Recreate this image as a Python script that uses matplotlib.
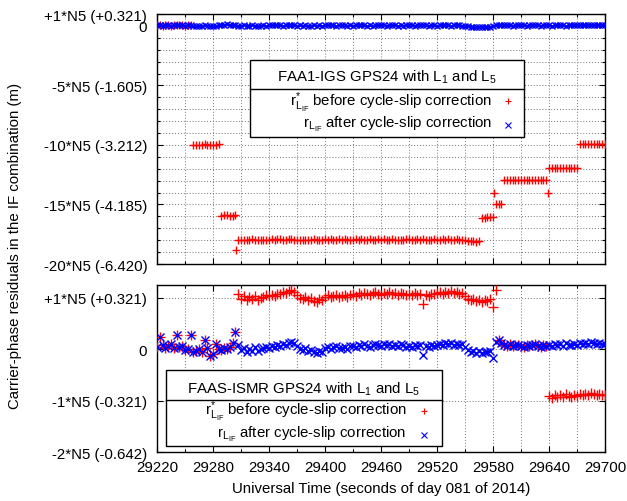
import numpy as np
import matplotlib.pyplot as plt
from matplotlib.patches import Rectangle
from matplotlib.ticker import MultipleLocator

plt.rcParams['font.family'] = ['Liberation Sans', 'DejaVu Sans']
plt.rcParams['mathtext.fontset'] = 'custom'
plt.rcParams['mathtext.rm'] = 'Liberation Sans'
plt.rcParams['mathtext.it'] = 'Liberation Sans'
plt.rcParams['font.size'] = 10.8

# epochs (seconds of day), one sample every 3 s
t = np.arange(29220, 29701, 3)

# FAA1-IGS residuals after correction (in N5 units)
top_after = [
    0.05, 0.08, 0.02, 0.06, 0.10, 0.03, 0.07, 0.04, 0.09, 0.05,
    0.02, 0.06, 0.08, 0.03, 0.00, -0.03, 0.02, 0.05, 0.01, -0.04,
    -0.02, 0.03, 0.06, 0.04, 0.09, 0.12, 0.07, 0.05, 0.08, 0.03,
    0.01, 0.04, 0.00, 0.03, 0.06, 0.02, -0.01, 0.03, 0.05, 0.02,
    0.04, 0.07, 0.05, 0.08, 0.06, 0.03, 0.05, 0.09, 0.07, 0.04,
    0.02, 0.05, 0.01, 0.04, 0.00, 0.03, 0.06, 0.02, 0.05, 0.03,
    0.06, 0.04, 0.08, 0.05, 0.03, 0.07, 0.04, 0.06, 0.02, 0.05,
    0.03, 0.06, 0.04, 0.07, 0.05, 0.02, 0.06, 0.03, 0.05, 0.08,
    0.04, 0.06, 0.03, 0.05, 0.07, 0.04, 0.02, 0.05, 0.03, 0.06,
    0.08, 0.05, 0.03, 0.06, 0.04, 0.07, 0.05, 0.02, 0.04, 0.06,
    0.03, 0.05, 0.07, 0.04, 0.06, 0.03, 0.05, 0.08, 0.04, 0.02,
    0.00, -0.03, -0.06, -0.09, -0.12, -0.10, -0.13, -0.11, -0.08, -0.05,
    -0.02, 0.04, 0.08, 0.05, 0.07, 0.04, 0.06, 0.03, 0.05, 0.07,
    0.04, 0.06, 0.02, 0.05, 0.08, 0.04, 0.06, 0.03, 0.05, 0.07,
    0.05, 0.03, 0.06, 0.04, 0.08, 0.05, 0.03, 0.07, 0.04, 0.06,
    0.05, 0.08, 0.04, 0.06, 0.09, 0.05, 0.07, 0.04, 0.06, 0.08,
    0.05,
]
# cycle slips of the uncorrected FAA1-IGS residuals
top_slip_start = [29220, 29258, 29288, 29306, 29566, 29583, 29590, 29639, 29671]
top_slip_level = [0, -10, -16, -18, -16, -15, -13, -12, -10]
top_outlier_t = [29305, 29581, 29639]
top_outlier_v = [-18.8, -14.0, -14.0]

# FAAS-ISMR residuals after correction (in N5 units)
bot_after = [
    0.04, 0.23, 0.08, 0.02, 0.06, 0.10, 0.03, 0.28, 0.05, 0.07,
    -0.02, 0.01, 0.27, -0.05, -0.03, 0.00, -0.06, 0.17, 0.02, -0.13,
    -0.10, 0.10, 0.01, -0.02, 0.03, 0.00, 0.05, 0.12, 0.34, 0.08,
    -0.02, 0.03, -0.05, 0.01, -0.03, 0.04, -0.04, 0.00, 0.02, 0.05,
    0.03, 0.06, 0.04, 0.08, 0.07, 0.11, 0.09, 0.13, 0.15, 0.12,
    0.06, 0.00, -0.02, 0.02, -0.04, -0.01, -0.06, -0.08, -0.03, -0.05,
    0.02, 0.05, 0.01, 0.04, 0.06, 0.02, 0.03, 0.05, 0.01, 0.06,
    0.07, 0.04, 0.09, 0.06, 0.10, 0.07, 0.05, 0.09, 0.11, 0.08,
    0.06, 0.10, 0.08, 0.11, 0.07, 0.09, 0.06, 0.10, 0.08, 0.05,
    0.07, 0.05, 0.09, 0.06, 0.08, -0.12, 0.06, 0.04, 0.08, 0.07,
    0.09, 0.11, 0.08, 0.12, 0.10, 0.13, 0.09, 0.11, 0.08, 0.10,
    0.04, -0.02, -0.05, -0.03, -0.07, -0.04, -0.08, -0.05, -0.06, -0.03,
    -0.18, 0.15, 0.17, 0.13, 0.09, 0.07, 0.10, 0.06, 0.08, 0.09,
    0.07, 0.05, 0.09, 0.06, 0.08, 0.10, 0.07, 0.05, 0.08, 0.06,
    0.09, 0.06, 0.11, 0.08, 0.10, 0.07, 0.12, 0.09, 0.08, 0.11,
    0.09, 0.12, 0.10, 0.13, 0.11, 0.15, 0.12, 0.10, 0.13, 0.11,
    0.10,
]
bot_slip_start = [29220, 29306, 29585, 29638]
bot_slip_level = [0, 1, 0, -1]

top_ticks = [1, 0, -5, -10, -15, -20]
top_labels = ['+1*N5 (+0.321)', '0', '-5*N5 (-1.605)', '-10*N5 (-3.212)',
              '-15*N5 (-4.185)', '-20*N5 (-6.420)']
bot_ticks = [1, 0, -1, -2]
bot_labels = ['+1*N5 (+0.321)', '0', '-1*N5 (-0.321)', '-2*N5 (-0.642)']


def slips(times, starts, levels):
    idx = np.searchsorted(starts, times, side='right') - 1
    return np.array(levels, dtype=float)[idx]


top_after = np.array(top_after)
bot_after = np.array(bot_after)
top_before = top_after + slips(t, top_slip_start, top_slip_level)
bot_before = bot_after + slips(t, bot_slip_start, bot_slip_level)

RED = '#ff0000'
BLUE = '#0000ff'

fig = plt.figure(figsize=(6.27, 5.02), dpi=100)
ax1 = fig.add_axes([0.2504, 0.4721, 0.7145, 0.4980])
ax2 = fig.add_axes([0.2504, 0.0976, 0.7145, 0.3327])

ax1.plot(t, top_before, '+', color=RED, ms=6, mew=1.0, zorder=3)
ax1.plot(top_outlier_t, top_outlier_v, '+', color=RED, ms=6, mew=1.0, zorder=3)
ax1.plot(t, top_after, 'x', color=BLUE, ms=5, mew=1.0, zorder=4)

ax2.plot(t, bot_before, '+', color=RED, ms=6.5, mew=1.0, zorder=3)
ax2.plot(t, bot_after, 'x', color=BLUE, ms=5.5, mew=1.0, zorder=4)

grid_kw = dict(color='0.45', linestyle=(0, (1, 2)), linewidth=0.7)
for ax in (ax1, ax2):
    ax.set_xlim(29220, 29700)
    ax.xaxis.set_major_locator(MultipleLocator(60))
    ax.xaxis.set_minor_locator(MultipleLocator(30))
    ax.tick_params(which='both', direction='in', top=True, right=True)
    ax.tick_params(which='major', length=4.5, width=0.8, pad=7)
    ax.tick_params(which='minor', length=2.5, width=0.8)
    for s in ax.spines.values():
        s.set_linewidth(1.0)

ax1.set_ylim(-20, 1)
ax1.set_yticks(top_ticks)
ax1.set_yticklabels(top_labels)
ax1.yaxis.set_minor_locator(MultipleLocator(1))
ax1.tick_params(axis='x', labelbottom=False)
ax1.grid(True, which='both', **grid_kw)

ax2.set_ylim(-2, 1.25)
ax2.set_yticks(bot_ticks)
ax2.set_yticklabels(bot_labels)
ax2.tick_params(axis='x', which='major', pad=6)
ax2.grid(True, which='major', axis='y', **grid_kw)
ax2.grid(True, which='both', axis='x', **grid_kw)
ax2.set_xlabel('Universal Time (seconds of day 081 of 2014)', labelpad=5)

fig.text(0.024, 0.51, 'Carrier-phase residuals in the IF combination (m)',
         rotation=90, ha='center', va='center')


def legend_box(ax, x0, x1, y0, y1, ysep, title, xt, yt, xr, xm, yb1, yb2, ym1, ym2):
    ax.add_patch(Rectangle((x0, y0), x1 - x0, y1 - y0, transform=ax.transAxes,
                           facecolor='white', edgecolor='black', lw=1.0,
                           zorder=10, clip_on=False))
    ax.plot([x0, x1], [ysep, ysep], color='black', lw=1.0,
            transform=ax.transAxes, zorder=11, clip_on=False)
    ax.text(xt, yt, title, transform=ax.transAxes, ha='center', va='baseline',
            zorder=12)
    ax.text(xr, yb1, r'$\mathrm{r^{*}_{L_{IF}}}$ before cycle-slip correction',
            transform=ax.transAxes, ha='right', va='baseline', zorder=12)
    ax.text(xr, yb2, r'$\mathrm{r_{L_{IF}}}$ after cycle-slip correction',
            transform=ax.transAxes, ha='right', va='baseline', zorder=12)
    ax.plot([xm], [ym1], '+', color=RED, ms=4.5, mew=0.8,
            transform=ax.transAxes, zorder=12, clip_on=False)
    ax.plot([xm], [ym2], 'x', color=BLUE, ms=4, mew=0.8,
            transform=ax.transAxes, zorder=12, clip_on=False)


legend_box(ax1, 0.2076, 0.8192, 0.508, 0.816, 0.700,
           'FAA1-IGS GPS24 with L$_1$ and L$_5$', 0.5134, 0.733,
           0.748, 0.7835, 0.636, 0.547, 0.651, 0.556)
legend_box(ax2, 0.0201, 0.636, 0.036, 0.491, 0.311,
           'FAAS-ISMR GPS24 with L$_1$ and L$_5$', 0.328, 0.357,
           0.557, 0.596, 0.2275, 0.088, 0.2435, 0.102)

fig.savefig('out.png', dpi=100)
